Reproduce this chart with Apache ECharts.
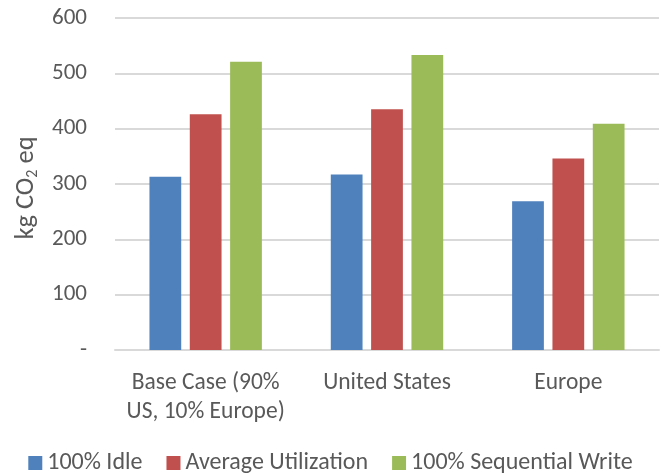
<!DOCTYPE html>
<html>
<head>
<meta charset="utf-8">
<script src="https://cdn.jsdelivr.net/npm/echarts@6/dist/echarts.min.js"></script>
<style>
  html, body { margin: 0; padding: 0; background: #fff; }
  #chart { width: 661px; height: 475px; }
</style>
</head>
<body>
<div id="chart"></div>
<script>
// Regions compared
const categories = ['Base Case (90%\nUS, 10% Europe)', 'United States', 'Europe'];

// Emissions per scenario, kg CO2 eq
const idle = [313, 317, 269];
const averageUtilization = [426, 435, 346];
const sequentialWrite = [521, 533, 409];

const yTicks = { min: 0, max: 600, interval: 100 };

const FONT = "Carlito, 'Open Sans', 'Liberation Sans', sans-serif";
const TEXT = '#595959';

const chart = echarts.init(document.getElementById('chart'), null, { renderer: 'canvas' });

function barSeries(name, data, color) {
  return {
    name: name,
    type: 'bar',
    data: data,
    barGap: '27%',
    barCategoryGap: '38%',
    itemStyle: { color: color },
    emphasis: { disabled: true }
  };
}

chart.setOption({
  animation: false,
  textStyle: { fontFamily: FONT },
  grid: { left: 115, right: 2, top: 18, bottom: 125, containLabel: false },
  legend: {
    top: 446,
    left: 'center',
    icon: 'rect',
    itemWidth: 14,
    itemHeight: 14,
    itemGap: 24,
    textStyle: { fontFamily: FONT, fontSize: 24, color: TEXT },
    data: ['100% Idle', 'Average Utilization', '100% Sequential Write']
  },
  xAxis: {
    type: 'category',
    data: categories,
    axisLine: { lineStyle: { color: '#d9d9d9', width: 2 } },
    axisTick: { show: false },
    axisLabel: {
      fontFamily: FONT, fontSize: 23.5, color: TEXT,
      margin: 19, lineHeight: 29, interval: 0
    }
  },
  yAxis: {
    type: 'value',
    min: yTicks.min,
    max: yTicks.max,
    interval: yTicks.interval,
    name: '{a|kg CO}{b|2}{a| eq}',
    nameLocation: 'middle',
    nameGap: 74,
    nameRotate: 90,
    nameTextStyle: {
      color: TEXT,
      padding: [0, 8, 0, 0],
      rich: {
        a: { fontFamily: FONT, fontSize: 26.5, color: TEXT },
        b: { fontFamily: FONT, fontSize: 16, color: TEXT, padding: [13, 0, 0, 0] }
      }
    },
    axisLine: { show: false },
    axisTick: { show: false },
    splitLine: { lineStyle: { color: '#d9d9d9', width: 2 } },
    axisLabel: {
      margin: 28,
      formatter: v => '{t|' + (v === 0 ? '-' : String(v)) + '}',
      rich: {
        t: { fontFamily: FONT, fontSize: 23, color: TEXT }
      }
    }
  },
  series: [
    barSeries('100% Idle', idle, '#4F81BD'),
    barSeries('Average Utilization', averageUtilization, '#C0504D'),
    barSeries('100% Sequential Write', sequentialWrite, '#9BBB59')
  ]
});
</script>
</body>
</html>
